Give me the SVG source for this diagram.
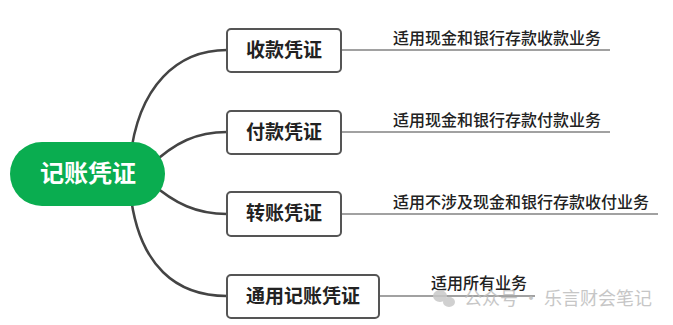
<svg xmlns="http://www.w3.org/2000/svg" width="673" height="325" viewBox="0 0 673 325">
<style>
.conn{fill:none;stroke:#444;stroke-width:2.5;stroke-linecap:round}
.box{fill:#fff;stroke:#555;stroke-width:2}
.lbl{font-family:"Noto Sans CJK SC","Noto Sans",sans-serif;font-weight:bold;font-size:19px;fill:#222;text-anchor:middle}
.desc{font-family:"Noto Sans CJK SC","Noto Sans",sans-serif;font-weight:500;font-size:16px;fill:#222}
.uline{stroke:#444;stroke-width:1.2}
</style>
<rect width="673" height="325" fill="#fff"/>
<g id="connectors">
<path class="conn" d="M130 160 C138 85 178 50 227 50"/>
<path class="conn" d="M150 166 C175 142 197 132 227 132"/>
<path class="conn" d="M150 182 C175 204 197 214 227 214"/>
<path class="conn" d="M130 190 C138 268 178 296 227 296"/>
<line class="uline" x1="341" y1="50" x2="610" y2="50"/>
<line class="uline" x1="341" y1="132" x2="610" y2="132"/>
<line class="uline" x1="341" y1="214" x2="658" y2="214"/>
<line class="uline" x1="379" y1="296" x2="535" y2="296"/>
</g>
<g id="root">
<rect x="10" y="142" width="155" height="64" rx="32" fill="#0AAD50"/>
<text x="88" y="182" font-family="'Noto Sans CJK SC',sans-serif" font-weight="bold" font-size="24" fill="#fff" text-anchor="middle">记账凭证</text>
</g>
<g id="n1">
<rect class="box" x="227" y="29" width="114" height="43" rx="4"/>
<text class="lbl" x="284" y="57">收款凭证</text>
<text class="desc" x="393" y="44">适用现金和银行存款收款业务</text>
</g>
<g id="n2">
<rect class="box" x="227" y="111" width="114" height="43" rx="4"/>
<text class="lbl" x="284" y="139">付款凭证</text>
<text class="desc" x="393" y="126">适用现金和银行存款付款业务</text>
</g>
<g id="n3">
<rect class="box" x="227" y="192" width="114" height="44" rx="4"/>
<text class="lbl" x="284" y="220">转账凭证</text>
<text class="desc" x="393" y="208">适用不涉及现金和银行存款收付业务</text>
</g>
<g id="n4">
<rect class="box" x="227" y="275" width="152" height="43" rx="4"/>
<text class="lbl" x="303" y="303">通用记账凭证</text>
<text class="desc" x="431" y="289">适用所有业务</text>
</g>
<g id="watermark" opacity="0.85">
<ellipse cx="440" cy="296" rx="7" ry="6" fill="#c8c8c8"/>
<ellipse cx="449" cy="302" rx="6" ry="5" fill="#c8c8c8"/>
<text x="464" y="305" font-family="'Noto Sans CJK SC',sans-serif" font-size="18" fill="#bdbdbd">公众号 · 乐言财会笔记</text>
</g>
</svg>
